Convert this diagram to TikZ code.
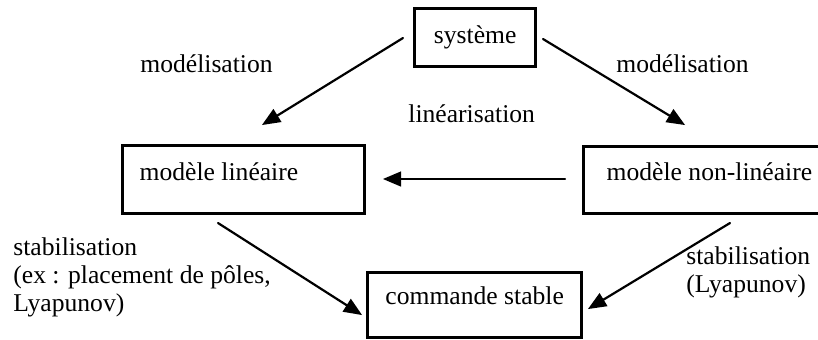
\documentclass[tikz,border=0pt]{standalone}
\usepackage{fontspec}
\setmainfont{Liberation Serif}
\usetikzlibrary{arrows}
\tikzset{
  boite/.style={draw, line width=1.7pt, line join=miter, inner sep=0pt, anchor=north west},
  etiq/.style={inner sep=0pt, anchor=base west, align=flush left},
  fleche/.style={->, line width=1.1pt}
}
\begin{document}
\begin{tikzpicture}[line cap=round,line join=round,>=triangle 45,x=0.5pt,y=-0.5pt,font=\fontsize{12.8}{14}\selectfont]
		\useasboundingbox (0,0) rectangle (818,339);
		% boites
		\node[boite, minimum width=60.5pt, minimum height=29pt] (sys) at (413,7) {système};
		\node[boite, minimum width=121pt, inner xsep=8.5pt, text width=104pt, align=flush left, text height=17.5pt, text depth=16.5pt] (lin) at (121,144) {modèle linéaire};
		\node[boite, minimum width=130pt, inner xsep=11.5pt, text width=107pt, align=flush left, text height=17pt, text depth=16.5pt] (nonlin) at (582,145) {modèle non-linéaire};
		\node[boite, minimum width=107pt, text height=16pt, text depth=16.5pt] (stab) at (366,271) {commande stable};
		% bouts des fleches
		\coordinate (a1) at (403,38);
		\coordinate (b1) at (262,125);
		\coordinate (a2) at (543,39);
		\coordinate (b2) at (685,125);
		\coordinate (a3) at (565,179);
		\coordinate (b3) at (383,179);
		\coordinate (a4) at (218,223);
		\coordinate (b4) at (362,315);
		\coordinate (a5) at (730,223);
		\coordinate (b5) at (588,309);
		\draw [fleche] (a1) -- (b1);
		\draw [fleche] (a2) -- (b2);
		\draw [fleche] (a3) -- (b3);
		\draw [fleche] (a4) -- (b4);
		\draw [fleche] (a5) -- (b5);
		% textes
		\node[etiq] (mod1) at (140,72) {modélisation};
		\node[etiq] (mod2) at (616,72) {modélisation};
		\node[etiq] (lineq) at (408,122) {linéarisation};
		\node[etiq] (stab1) at (13,311) {stabilisation\\(ex : placement de pôles,\\Lyapunov)};
		\node[etiq] (stab2) at (686,292) {stabilisation\\(Lyapunov)};
\end{tikzpicture}
\end{document}
